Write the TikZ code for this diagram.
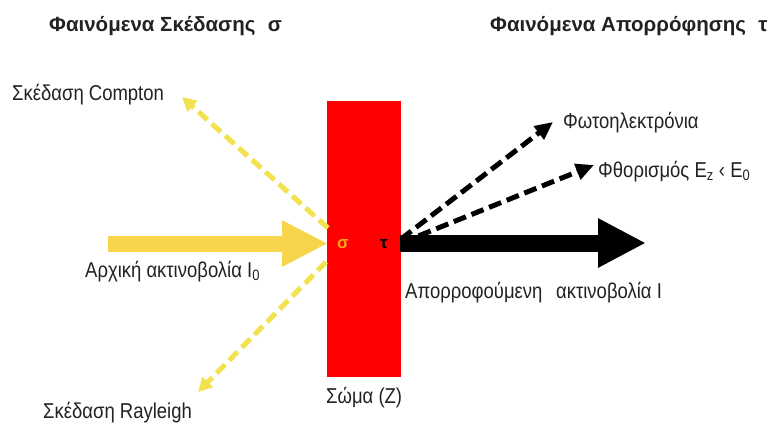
\documentclass[tikz,border=0pt]{standalone}
\usepackage{fontspec}
\setmainfont{Liberation Sans}
\newfontfamily\bodyfont[FakeStretch=0.86]{Liberation Sans}
\usetikzlibrary{arrows.meta}
\definecolor{beam}{HTML}{F7D54A}
\definecolor{scat}{HTML}{F2E24E}
\definecolor{sigmaor}{HTML}{FFA319}
\definecolor{txt}{HTML}{222222}
\begin{document}
\begin{tikzpicture}[x=1pt,y=-1pt,
  lbl/.style={font=\bodyfont\fontsize{21.5}{25}\selectfont, inner sep=0pt, anchor=base west, text=txt},
  ttl/.style={font=\bfseries\fontsize{20.5}{24}\selectfont, inner sep=0pt, anchor=base west, text=txt},
  scatarrow/.style={draw=scat, line width=5pt, dash pattern=on 12pt off 6pt, -{Triangle[length=14pt,width=14pt]}},
  absarrow/.style={draw=black, line width=5pt, dash pattern=on 13pt off 6pt, -{Triangle[length=18pt,width=16pt]}},
  greek/.style={font=\bfseries\fontsize{17}{20}\selectfont, inner sep=0pt}
]
\useasboundingbox[fill=white] (0,0) rectangle (769,426);
% body
\node[fill=red, minimum width=74pt, minimum height=276pt, inner sep=0pt] (body) at (364,239) {};
% coordinates
\coordinate (inS) at (108,243.5);
\coordinate (inE) at (328,243.5);
\coordinate (outS) at (400,243);
\coordinate (outE) at (646,243);
\coordinate (cS) at (328,228);
\coordinate (cE) at (182,97);
\coordinate (rS) at (326,262);
\coordinate (rE) at (198,392);
\coordinate (pS) at (401,239);
\coordinate (pE) at (553,122);
\coordinate (fS) at (401,243);
\coordinate (fE) at (594,165);
% beams
\draw[beam, line width=16pt, -{Triangle[length=46pt,width=43pt]}] (inS) -- (inE);
\draw[black, line width=17pt, -{Triangle[length=48pt,width=46pt]}] (outS) -- (outE);
\draw[scatarrow] (cS) -- (cE);
\draw[scatarrow] (rS) -- (rE);
\draw[absarrow] (pS) -- (pE);
\draw[absarrow] (fS) -- (fE);
% greek letters in body
\node[greek, text=sigmaor] (sig) at (343,244) {σ};
\node[greek, text=black] (tau) at (384,244) {τ};
% titles
\node[ttl] (t1) at (49,31) {Φαινόμενα Σκέδασης\hspace{0.6em}σ};
\node[ttl] (t2) at (490,31) {Φαινόμενα Απορρόφησης\hspace{0.6em}τ};
% labels
\node[lbl] (compton) at (12,100) {Σκέδαση Compton};
\node[lbl] (initial) at (85,277) {Αρχική ακτινοβολία I\textsubscript{0}};
\node[lbl] (photo) at (563,128) {Φωτοηλεκτρόνια};
\node[lbl] (fluor) at (598,177) {Φθορισμός E\textsubscript{z} ‹ E\textsubscript{0}};
\node[lbl] (absorbed) at (405,298) {Απορροφούμενη\hspace{0.4em} ακτινοβολία I};
\node[lbl] (rayleigh) at (43,418) {Σκέδαση Rayleigh};
\node[lbl] (bodylbl) at (326,403) {Σώμα (Z)};
\end{tikzpicture}
\end{document}
